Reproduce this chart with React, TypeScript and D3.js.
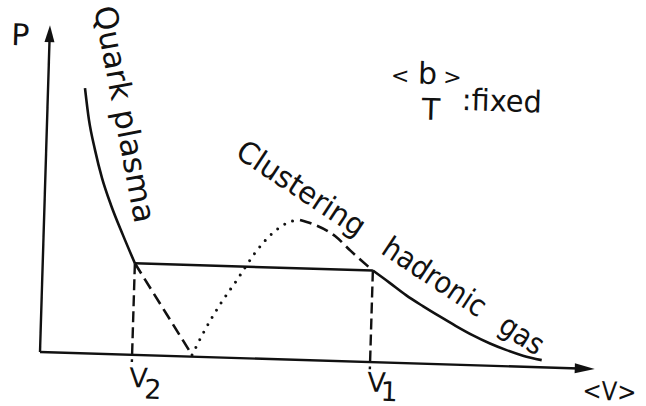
import { useEffect, useRef } from 'react';
import * as d3 from 'd3';

// Isotherm sketch, arbitrary units: <V> 0..100, P 0..100
type Pt = [number, number];

const quarkPlasma: Pt[] = [[6.65, 81.1], [7.54, 71.4], [8.79, 62.3], [10.2, 53.8], [11.97, 45.6], [14.3, 36.5], [16.6, 28]];
const hadronicGas: Pt[] = [[59.5, 28], [62.6, 24.4], [65.6, 20.8], [68.7, 17.6], [71.8, 14.6], [74.7, 11.9], [77.8, 9.2], [81.0, 6.8], [83.9, 5.0], [87.0, 3.4], [90.4, 2.2]];
// metastable branches (dashed) and unstable branch (dotted)
const superheatedPlasma: Pt[] = [[16.6, 28], [27.4, 0.5]];
const supercooledGas: Pt[] = [[46.1, 42.8], [48.4, 41.7], [52.5, 38.2], [55.4, 33.8], [59.5, 28]];
const unstableBranch: Pt[] = [[27.4, 0.5], [29.6, 8.3], [32.1, 16.0], [35.1, 23.9], [38.2, 32.3], [41.3, 38.6], [44.3, 42.1], [46.1, 42.8]];

const V2 = 16.6;
const V1 = 59.5;
const coexistenceP = 28;

// text labels
const curveLabels = [
  { text: 'Quark plasma', at: [7.83, 105.65] as Pt, angle: 77.55, length: 220, size: 31 },
  { text: 'Clustering', at: [33.84, 61.7] as Pt, angle: 31.75, length: 148, size: 30 },
  { text: 'hadronic', at: [60.65, 33.5] as Pt, angle: 31.75, length: 118, size: 30 },
  { text: 'gas', at: [82.14, 10.9] as Pt, angle: 31.75, length: 47, size: 30 },
];

// scan is tilted a little
const tilt = 1.75;

export default function App() {
  const ref = useRef<SVGSVGElement>(null);

  useEffect(() => {
    const width = 646;
    const height = 406;
    const svg = d3.select(ref.current);
    svg.selectAll('*').remove();
    svg.attr('width', width).attr('height', height);

    const x = d3.scaleLinear().domain([0, 100]).range([40, 595]);
    const y = d3.scaleLinear().domain([0, 100]).range([352, 25]);
    const ink = '#111';
    const font = '"DejaVu Sans", sans-serif';

    svg.append('rect').attr('width', width).attr('height', height).attr('fill', '#fff');
    const g = svg.append('g').attr('transform', `rotate(${tilt}, ${x(0)}, ${y(0)})`);

    const line = d3.line<Pt>()
      .x(d => x(d[0]))
      .y(d => y(d[1]))
      .curve(d3.curveMonotoneX);

    // Ejes
    g.append('line')
      .attr('x1', x(0)).attr('y1', y(0))
      .attr('x2', x(0)).attr('y2', y(100) + 14)
      .attr('stroke', ink).attr('stroke-width', 2.4);
    g.append('path')
      .attr('d', `M${x(0)},${y(100)}L${x(0) - 5},${y(100) + 17}L${x(0) + 5},${y(100) + 17}Z`)
      .attr('fill', ink);
    g.append('line')
      .attr('x1', x(0)).attr('y1', y(0))
      .attr('x2', x(100) - 16).attr('y2', y(0))
      .attr('stroke', ink).attr('stroke-width', 2.4);
    g.append('path')
      .attr('d', `M${x(100)},${y(0)}L${x(100) - 20},${y(0) - 5}L${x(100) - 20},${y(0) + 5}Z`)
      .attr('fill', ink);

    // solid branches
    [quarkPlasma, hadronicGas].forEach(d => {
      g.append('path')
        .attr('d', line(d))
        .attr('fill', 'none')
        .attr('stroke', ink)
        .attr('stroke-width', 2.6);
    });
    // Maxwell line
    g.append('line')
      .attr('x1', x(V2)).attr('y1', y(coexistenceP))
      .attr('x2', x(V1)).attr('y2', y(coexistenceP))
      .attr('stroke', ink).attr('stroke-width', 2.6);

    // dashed branches
    [superheatedPlasma, supercooledGas].forEach(d => {
      g.append('path')
        .attr('d', line(d))
        .attr('fill', 'none')
        .attr('stroke', ink)
        .attr('stroke-width', 2.6)
        .attr('stroke-dasharray', '12,6');
    });
    // dotted unstable branch
    g.append('path')
      .attr('d', line(unstableBranch))
      .attr('fill', 'none')
      .attr('stroke', ink)
      .attr('stroke-width', 3)
      .attr('stroke-linecap', 'round')
      .attr('stroke-dasharray', '0,8.5');

    // V1, V2 drop lines
    [V2, V1].forEach(v => {
      g.append('line')
        .attr('x1', x(v)).attr('y1', y(coexistenceP))
        .attr('x2', x(v)).attr('y2', y(-2.2))
        .attr('stroke', ink)
        .attr('stroke-width', 2.4)
        .attr('stroke-dasharray', '11,5');
    });

    const text = (vx: number, py: number, s: string, size: number) =>
      g.append('text')
        .attr('x', x(vx)).attr('y', y(py))
        .attr('font-family', font)
        .attr('font-size', size)
        .attr('fill', ink)
        .text(s);

    // axis labels
    text(-6.9, 93.6, 'P', 30);
    text(97.9, -9.4, '<V>', 26).attr('textLength', 54).attr('lengthAdjust', 'spacingAndGlyphs');
    text(V2 - 0.4, -9.9, 'V', 27)
      .append('tspan').attr('dx', -3).attr('dy', 11).text('2');
    text(V1 - 0.4, -9.0, 'V', 27)
      .append('tspan').attr('dx', -5).attr('dy', 9).text('1');

    // <b>, T : fixed
    const bt = text(61.7, 85.6, '', 22);
    bt.append('tspan').text('<');
    bt.append('tspan').attr('dx', 8.6).attr('font-size', 30).text('b');
    bt.append('tspan').attr('dx', 6).text('>');
    text(69.1, 74.6, 'T', 30).attr('text-anchor', 'middle');
    text(74.6, 77.9, ':fixed', 30).attr('textLength', 80).attr('lengthAdjust', 'spacingAndGlyphs');

    // labels along the curves
    curveLabels.forEach(l => {
      g.append('text')
        .attr('transform', `translate(${x(l.at[0])},${y(l.at[1])}) rotate(${l.angle})`)
        .attr('font-family', font)
        .attr('font-size', l.size)
        .attr('fill', ink)
        .attr('textLength', l.length)
        .attr('lengthAdjust', 'spacingAndGlyphs')
        .text(l.text);
    });
  }, []);

  return <svg ref={ref} style={{ position: 'absolute', left: 0, top: 0 }} />;
}
